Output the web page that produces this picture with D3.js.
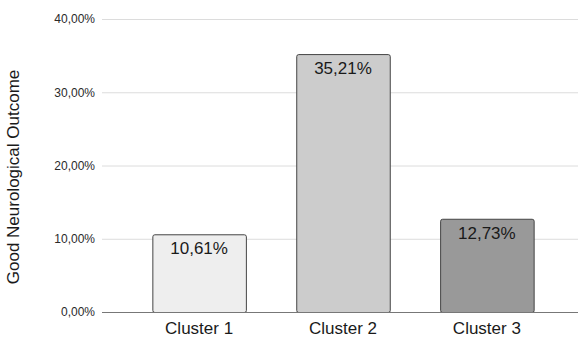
<!DOCTYPE html>
<html>
<head>
<meta charset="utf-8">
<script src="https://cdn.jsdelivr.net/npm/d3@7"></script>
<style>
  html, body { margin: 0; padding: 0; background: #fff; }
  svg { display: block; font-family: "Liberation Sans", Arial, Helvetica, sans-serif; }
</style>
</head>
<body>
<svg id="chart" width="578" height="338"></svg>
<script>
// Share of patients with good neurological outcome per cluster (%)
const categories = ["Cluster 1", "Cluster 2", "Cluster 3"];
const values = [10.61, 35.21, 12.73];
const barColors = ["#eeeeee", "#cccccc", "#999999"];
const yTicks = [0, 10, 20, 30, 40];
const yLabel = "Good Neurological Outcome";

const fmt = v => d3.format(".2f")(v).replace(".", ",") + "%";

const svg = d3.select("#chart");
const plotLeft = 102, plotRight = 578, plotTop = 19, plotBottom = 312;

const x = d3.scaleBand()
  .domain(categories)
  .range([102, 584])
  .paddingInner(0.35)
  .paddingOuter(0.35);

const y = d3.scaleLinear()
  .domain([0, 40])
  .range([plotBottom, plotTop]);

// Horizontal gridlines
svg.append("g")
  .selectAll("line")
  .data(yTicks.filter(t => t !== 0))
  .join("line")
  .attr("x1", plotLeft)
  .attr("x2", plotRight)
  .attr("y1", d => y(d) + 0.5)
  .attr("y2", d => y(d) + 0.5)
  .attr("stroke", "#dcdcdc")
  .attr("stroke-width", 1);

// Y axis tick labels
const yAxis = d3.axisLeft(y)
  .tickValues(yTicks)
  .tickSize(0)
  .tickPadding(0)
  .tickFormat(fmt);

const yg = svg.append("g")
  .attr("transform", `translate(95,0)`)
  .call(yAxis);
yg.select(".domain").remove();
yg.selectAll("text")
  .attr("font-size", 12)
  .attr("font-family", "Liberation Sans, Arial, sans-serif")
  .attr("fill", "#2a2a2a");

// Bars
svg.append("g")
  .selectAll("rect")
  .data(values)
  .join("rect")
  .attr("x", (d, i) => x(categories[i]) + 0.5)
  .attr("y", d => y(d) + 0.5)
  .attr("width", x.bandwidth())
  .attr("height", d => y(0) - y(d))
  .attr("rx", 2)
  .attr("fill", (d, i) => barColors[i])
  .attr("stroke", "#444")
  .attr("stroke-width", 1);

// Baseline
svg.append("line")
  .attr("x1", plotLeft)
  .attr("x2", plotRight)
  .attr("y1", y(0) + 0.5)
  .attr("y2", y(0) + 0.5)
  .attr("stroke", "#777")
  .attr("stroke-width", 1.2);

// Value labels inside bars
svg.append("g")
  .selectAll("text")
  .data(values)
  .join("text")
  .attr("x", (d, i) => x(categories[i]) + x.bandwidth() / 2)
  .attr("y", d => y(d) + 20)
  .attr("text-anchor", "middle")
  .attr("font-size", 17)
  .attr("fill", "#1a1a1a")
  .text(d => fmt(d));

// Category labels
svg.append("g")
  .selectAll("text")
  .data(categories)
  .join("text")
  .attr("x", d => x(d) + x.bandwidth() / 2)
  .attr("y", 334)
  .attr("text-anchor", "middle")
  .attr("font-size", 17)
  .attr("fill", "#1a1a1a")
  .text(d => d);

// Y axis title
svg.append("text")
  .attr("transform", `translate(19,177) rotate(-90)`)
  .attr("text-anchor", "middle")
  .attr("font-size", 17)
  .attr("fill", "#1a1a1a")
  .text(yLabel);
</script>
</body>
</html>
